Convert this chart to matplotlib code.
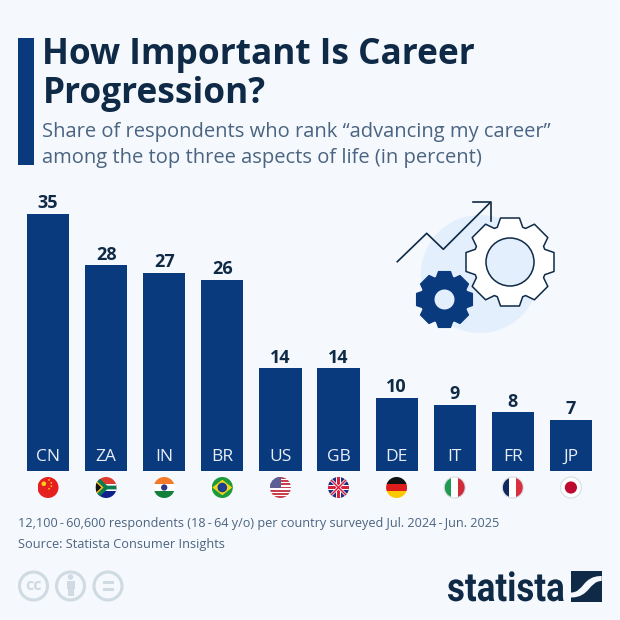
import numpy as np
import matplotlib
matplotlib.use('Agg')
import matplotlib.pyplot as plt
import matplotlib.patheffects as pe
from matplotlib.patches import Circle, Rectangle, Polygon, PathPatch
from matplotlib.path import Path
from matplotlib.transforms import Affine2D

plt.rcParams['font.family'] = ['Open Sans', 'DejaVu Sans']

codes = ['CN', 'ZA', 'IN', 'BR', 'US', 'GB', 'DE', 'IT', 'FR', 'JP']
values = [35, 28, 27, 26, 14, 14, 10, 9, 8, 7]

title = 'How Important Is Career\nProgression?'
subtitle = 'Share of respondents who rank \u201cadvancing my career\u201d\namong the top three aspects of life (in percent)'
note = '12,100\u2009-\u200960,600 respondents (18\u2009-\u200964 y/o) per country surveyed Jul. 2024\u2009-\u2009Jun. 2025'
source = 'Source: Statista Consumer Insights'

BG = '#f5f8fc'
BLUE = '#0a3a7e'
DARK = '#0f2a47'
GREY = '#4a6481'
PALE = '#cfdae2'

W = 620


class Squeeze(pe.AbstractPathEffect):
    # narrows the logo word around its left edge
    def __init__(self, sx, x0):
        super().__init__()
        self.sx = sx
        self.x0 = x0

    def draw_path(self, renderer, gc, tpath, affine, rgbFace=None):
        squeeze = Affine2D().translate(-self.x0, 0).scale(self.sx, 1).translate(self.x0, 0)
        renderer.draw_path(gc, tpath, affine + squeeze, rgbFace)


def gear(ax, cx, cy, r_out, r_in, teeth, **kw):
    # trapezoid teeth going round the centre
    pts = []
    step = 2 * np.pi / teeth
    for i in range(teeth):
        a = i * step
        for da, r in [(-0.33, r_in), (-0.20, r_out), (0.20, r_out), (0.33, r_in)]:
            pts.append((cx + r * np.cos(a + da * step * 1.35), cy + r * np.sin(a + da * step * 1.35)))
    ax.add_patch(Polygon(pts, closed=True, joinstyle='round', **kw))


def flag(ax, code, cx, r=10.5, cy=487.5):
    clip = Circle((cx, cy), r, transform=ax.transData)
    L, T = cx - r, cy - r
    S = 2 * r

    def rect(x, y, w, h, c):
        p = Rectangle((L + x * S, T + y * S), w * S, h * S, fc=c, ec='none', zorder=3)
        ax.add_patch(p)
        p.set_clip_path(clip)

    def poly(pts, c, lw=0, ec='none'):
        p = Polygon([(L + x * S, T + y * S) for x, y in pts], closed=True, fc=c, ec=ec, lw=lw, zorder=4)
        ax.add_patch(p)
        p.set_clip_path(clip)

    def dot(x, y, rad, c, ec='none', lw=0):
        p = Circle((L + x * S, T + y * S), rad * S, fc=c, ec=ec, lw=lw, zorder=5)
        ax.add_patch(p)
        p.set_clip_path(clip)

    if code == 'CN':
        rect(0, 0, 1, 1, '#e5201f')
        dot(0.30, 0.32, 0.11, '#f8d21c')
        for x, y in [(0.55, 0.14), (0.66, 0.28), (0.66, 0.44), (0.55, 0.56)]:
            dot(x, y, 0.04, '#f8d21c')
    elif code == 'ZA':
        rect(0, 0, 1, 0.5, '#de3b2f')
        rect(0, 0.5, 1, 0.5, '#10218b')
        rect(0, 0.32, 1, 0.36, '#ffffff')
        poly([(0, 0), (0.12, 0), (0.55, 0.41), (1, 0.41), (1, 0.59), (0.55, 0.59), (0.12, 1), (0, 1)], '#0a7a4f')
        poly([(0, 0.14), (0.38, 0.5), (0, 0.86)], '#f5b81c')
        poly([(0, 0.24), (0.27, 0.5), (0, 0.76)], '#111111')
    elif code == 'IN':
        rect(0, 0, 1, 0.34, '#f47a2a')
        rect(0, 0.34, 1, 0.32, '#ffffff')
        rect(0, 0.66, 1, 0.34, '#12803a')
        dot(0.5, 0.5, 0.15, '#2b3a86')
    elif code == 'BR':
        rect(0, 0, 1, 1, '#1c9a3c')
        poly([(0.03, 0.5), (0.5, 0.13), (0.97, 0.5), (0.5, 0.87)], '#f9d616')
        dot(0.5, 0.5, 0.23, '#1d3f8f')
    elif code == 'US':
        for i in range(7):
            rect(0, i * 2 / 13, 1, 1 / 13, '#c8404f')
            rect(0, (i * 2 + 1) / 13, 1, 1 / 13, '#ffffff')
        rect(0, 0, 0.55, 0.5, '#5b5f96')
    elif code == 'GB':
        rect(0, 0, 1, 1, '#1e2f7d')
        poly([(0, 0.1), (0.1, 0), (1, 0.9), (0.9, 1)], '#ffffff')
        poly([(1, 0.1), (0.9, 0), (0, 0.9), (0.1, 1)], '#ffffff')
        poly([(0, 0.05), (0.05, 0), (1, 0.95), (0.95, 1)], '#d8203c')
        poly([(1, 0.05), (0.95, 0), (0, 0.95), (0.05, 1)], '#d8203c')
        rect(0.36, 0, 0.28, 1, '#ffffff')
        rect(0, 0.36, 1, 0.28, '#ffffff')
        rect(0.42, 0, 0.16, 1, '#d8203c')
        rect(0, 0.42, 1, 0.16, '#d8203c')
    elif code == 'DE':
        rect(0, 0, 1, 0.34, '#111111')
        rect(0, 0.34, 1, 0.32, '#dd1c1c')
        rect(0, 0.66, 1, 0.34, '#fcc800')
    elif code == 'IT':
        rect(0, 0, 0.34, 1, '#1f9a52')
        rect(0.34, 0, 0.32, 1, '#ffffff')
        rect(0.66, 0, 0.34, 1, '#cf2b3a')
    elif code == 'FR':
        rect(0, 0, 0.34, 1, '#10295e')
        rect(0.34, 0, 0.32, 1, '#ffffff')
        rect(0.66, 0, 0.34, 1, '#d9303f')
    elif code == 'JP':
        rect(0, 0, 1, 1, '#ffffff')
        dot(0.5, 0.5, 0.29, '#bc0a30')
    if code in ('IT', 'FR', 'JP'):
        ax.add_patch(Circle((cx, cy), r, fc='none', ec='#d8dde3', lw=0.8, zorder=6))


fig = plt.figure(figsize=(6.2, 6.2), dpi=100, facecolor=BG)

# overlay in pixel coordinates for title block, icon, flags and logo
deco = fig.add_axes([0, 0, 1, 1])
deco.set_xlim(0, W)
deco.set_ylim(W, 0)
deco.axis('off')

deco.add_patch(Rectangle((18, 37.5), 15.5, 127, fc=BLUE, ec='none'))
deco.text(42.5, 74.5, title, fontsize=25.4, fontweight='bold', color=DARK, va='center', ha='left', linespacing=1.08)
deco.text(41.5, 145, subtitle, fontsize=14.5, color=GREY, va='center', ha='left', linespacing=1.34)

# illustration
deco.add_patch(Circle((480, 274), 59, fc='#e3effc', ec='none'))
gear(deco, 510, 262, 45, 37, 8, fc='white', ec=DARK, lw=1.1)
deco.add_patch(Circle((510, 262), 24, fc='#e3effc', ec=DARK, lw=1.1))
gear(deco, 444.5, 299.5, 28.5, 23.5, 8, fc=BLUE, ec=BLUE, lw=1)
deco.add_patch(Circle((444.5, 299.5), 10, fc='#e3effc', ec='none'))
deco.plot([397.3, 426.7, 443.3, 490], [261.7, 233.3, 249.3, 202.7], color=DARK, lw=1.2)
deco.plot([472.7, 490.7, 490.7], [202, 202, 220.7], color=DARK, lw=1.2)

deco.text(18, 524, note, fontsize=9.08, color=GREY, va='center', ha='left')
deco.text(18, 544.5, source, fontsize=9.15, color=GREY, va='center', ha='left')

# licence icons
for cx in [33.5, 70.5, 108]:
    deco.add_patch(Circle((cx, 586), 14, fc='none', ec=PALE, lw=2.2))
deco.text(33.5, 585.5, 'cc', fontsize=11.5, fontweight='bold', color=PALE, ha='center', va='center')
deco.add_patch(Circle((70.5, 577), 2.8, fc=PALE, ec='none'))
deco.add_patch(Rectangle((66.5, 581), 8, 8, fc=PALE, ec='none'))
deco.add_patch(Rectangle((67.5, 588.5), 6, 7, fc=PALE, ec='none'))
deco.add_patch(Rectangle((102.5, 581), 11, 3.2, fc=PALE, ec='none'))
deco.add_patch(Rectangle((102.5, 587.5), 11, 3.2, fc=PALE, ec='none'))

# logo
deco.text(447, 601, 'statista', fontsize=29, fontweight='bold', color=DARK, ha='left', va='baseline',
          family=['Roboto', 'DejaVu Sans'], path_effects=[Squeeze(0.865, 447)])
deco.add_patch(Rectangle((571, 571), 30.7, 30.7, fc=DARK, ec='none'))
swoosh = Path([(571, 592.5), (584, 592.5), (582, 576), (601.7, 576), (601.7, 581), (589, 581), (590, 597.5), (571, 597.5), (571, 592.5)],
              [Path.MOVETO, Path.CURVE4, Path.CURVE4, Path.CURVE4, Path.LINETO, Path.CURVE4, Path.CURVE4, Path.CURVE4, Path.CLOSEPOLY])
deco.add_patch(PathPatch(swoosh, fc=BG, ec='none'))

# bars: category centres 58.1 px apart, baseline at y=471, 35 -> y=214
ax = fig.add_axes([19 / W, 1 - 471 / W, 581 / W, 257 / W])
ax.patch.set_alpha(0)
x = np.arange(len(codes))
ax.bar(x, values, width=0.725, color=BLUE)
ax.set_xlim(-0.5, 9.5)
ax.set_ylim(0, 35)
ax.axis('off')
for i, (c, v) in enumerate(zip(codes, values)):
    ax.annotate(str(v), (i, v), xytext=(0, 1.2), textcoords='offset points', ha='center', va='bottom',
                fontsize=13, fontweight='bold', color=DARK)
    ax.annotate(c, (i, 0), xytext=(0, 4.2), textcoords='offset points', ha='center', va='bottom',
                fontsize=12.5, color='#e8eef6')
    flag(deco, c, 48 + 58.1 * i)

fig.savefig('out.png', dpi=100, facecolor=BG)
